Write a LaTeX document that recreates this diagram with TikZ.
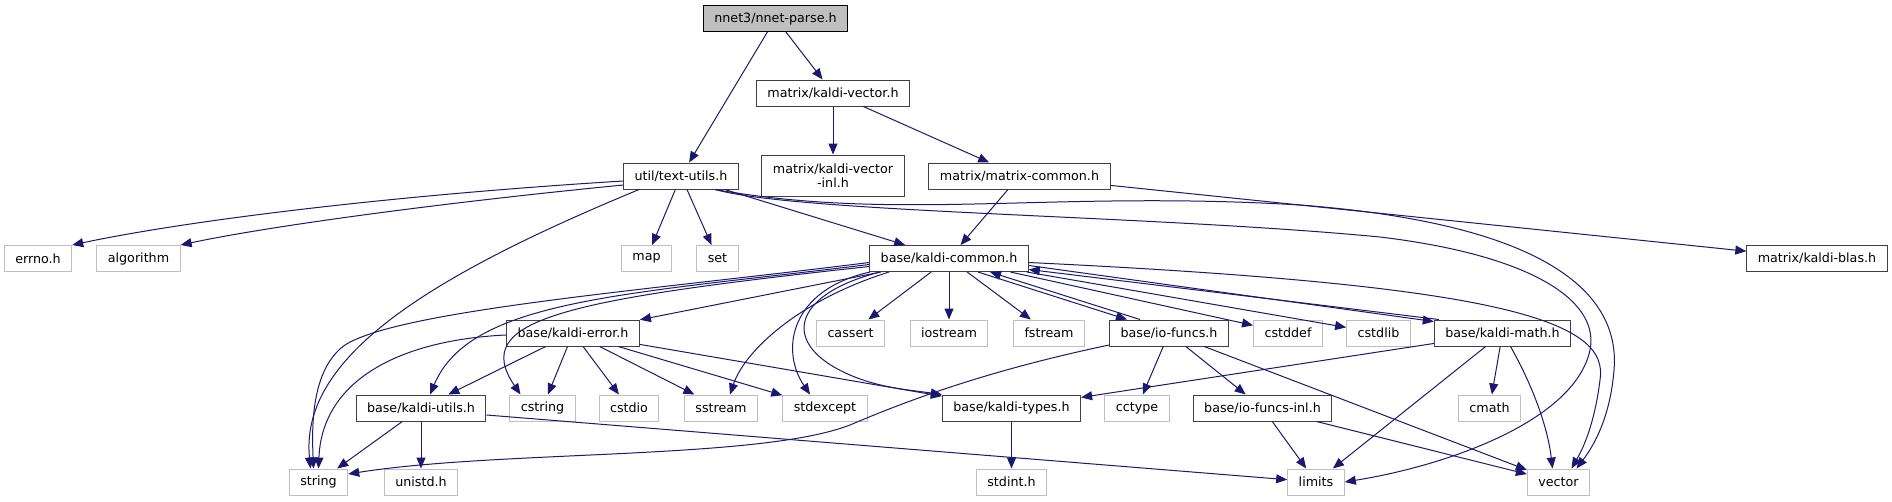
\documentclass[tikz,border=0pt]{standalone}
\usepackage{fontspec}
\usepackage{tikz}
\usetikzlibrary{arrows.meta,positioning,calc}
\newfontfamily\graphfont{DejaVu Sans}
\definecolor{edgeBlue}{HTML}{191970}
\definecolor{sysGray}{HTML}{BFBFBF}
\definecolor{docGray}{HTML}{404040}
\begin{document}
\begin{tikzpicture}[
    x=1pt, y=-1pt,
    box/.style={draw=docGray, line width=1pt, fill=white, minimum height=26pt, inner xsep=11pt, inner ysep=2pt, align=center, font=\graphfont\fontsize{12.7}{14}\selectfont},
    sys/.style={box, draw=sysGray},
    rootbox/.style={box, draw=black, fill=sysGray},
    arr/.style={-{Triangle[length=11pt, width=9pt]}, draw=edgeBlue, line width=1pt}
]
\path[fill=white] (0,0) rectangle (1892,501);
\useasboundingbox (0,0) rectangle (1892,501);

% rows, top to bottom
\node[rootbox] (root) at (775.5,18.5) {nnet3/nnet-parse.h};
\node[box] (kv) at (833,93) {matrix/kaldi-vector.h};
\node[box] (tu) at (681,176) {util/text-utils.h};
\node[box, minimum height=41pt] (kvi) at (833,175.5) {matrix/kaldi-vector\\-inl.h};
\node[box] (mc) at (1019.5,176) {matrix/matrix-common.h};

\node[sys] (errno) at (38,258.5) {errno.h};
\node[sys] (algo) at (138.5,258.5) {algorithm};
\node[sys] (map) at (646.5,258.5) {map};
\node[sys] (set) at (717.5,258.5) {set};
\node[box] (kc) at (949,258.5) {base/kaldi-common.h};
\node[box] (blas) at (1817,258.5) {matrix/kaldi-blas.h};

\node[box] (ke) at (573,333) {base/kaldi-error.h};
\node[sys] (cassert) at (850.5,333) {cassert};
\node[sys] (iostream) at (949,333) {iostream};
\node[sys] (fstream) at (1049,333) {fstream};
\node[box] (io) at (1169,333) {base/io-funcs.h};
\node[sys] (cstddef) at (1288,333) {cstddef};
\node[sys] (cstdlib) at (1378.5,333) {cstdlib};
\node[box] (km) at (1502.5,333) {base/kaldi-math.h};

\node[box] (ku) at (421,408) {base/kaldi-utils.h};
\node[sys] (cstring) at (542.5,408) {cstring};
\node[sys] (cstdio) at (629,408) {cstdio};
\node[sys] (sstream) at (721,408) {sstream};
\node[sys] (stdexcept) at (825,408) {stdexcept};
\node[box] (kt) at (1011.5,408) {base/kaldi-types.h};
\node[sys] (cctype) at (1137,408) {cctype};
\node[box] (ioi) at (1262.5,408) {base/io-funcs-inl.h};
\node[sys] (cmath) at (1489.5,408) {cmath};

\node[sys] (string) at (318.5,482) {string};
\node[sys] (unistd) at (421,482) {unistd.h};
\node[sys] (stdint) at (1011.5,482) {stdint.h};
\node[sys] (limits) at (1316,482) {limits};
\node[sys] (vector) at (1558.5,482) {vector};

% nnet-parse and matrix headers
\draw[arr] (root) -- (tu);
\draw[arr] (root) -- (kv);
\draw[arr] (kv) -- (kvi);
\draw[arr] (kv) -- (mc);
\draw[arr] (mc) -- (kc);
\draw[arr] (mc) -- (blas);

% text-utils
\draw[arr] ([yshift=-5pt]tu.west) .. controls (380,196) and (180,222) .. (errno.north east);
\draw[arr] ([yshift=-9pt]tu.west) .. controls (420,205) and (260,228) .. (algo.north east);
\draw[arr] ([xshift=16pt]tu.south west) .. controls (420,280) and (300,360) .. ([xshift=-8pt]string.north);
\draw[arr] (tu) -- (map);
\draw[arr] (tu) -- (set);
\draw[arr] (tu) -- (kc);
\draw[arr] ([xshift=34pt]tu.south) .. controls (900,222) and (1050,190) .. (1300,205)
    .. controls (1560,225) and (1620,300) .. (1614,370)
    .. controls (1610,420) and (1592,448) .. ([xshift=18pt]vector.north);
\draw[arr] ([xshift=34pt]tu.south) .. controls (800,213) and (1150,215) .. (1380,237)
    .. controls (1530,255) and (1600,300) .. (1590,350)
    .. controls (1575,420) and (1450,465) .. (limits.east);

% kaldi-common
\draw[arr] (kc) -- (ke);
\draw[arr] (kc) -- (cassert);
\draw[arr] (kc) -- (iostream);
\draw[arr] (kc) -- (fstream);
\draw[arr] ([xshift=29pt]kc.south) -- ([xshift=-42pt]io.north);
\draw[arr] ([xshift=-29pt]io.north) -- ([xshift=41pt]kc.south);
\draw[arr] (kc) -- (cstddef);
\draw[arr] (kc) -- (cstdlib);
\draw[arr] ([yshift=-7pt]kc.east) -- ([yshift=-2pt]km.north west);
\draw[arr] ([xshift=5pt]km.north west) -- ([yshift=-11pt]kc.east);
\draw[arr] ([yshift=-4pt]kc.east) .. controls (1500,285) and (1610,320) .. (1600,380)
    .. controls (1595,420) and (1585,445) .. ([xshift=13pt]vector.north);
\draw[arr] ([xshift=-69pt]kc.south) .. controls (790,295) and (780,345) .. (850,375)
    .. controls (880,388) and (910,390) .. (kt.north west);
\draw[arr] ([xshift=-60pt]kc.south) .. controls (800,300) and (745,350) .. ([xshift=9pt]sstream.north);
\draw[arr] ([xshift=-79pt]kc.south) .. controls (790,290) and (780,350) .. ([xshift=-15pt]stdexcept.north);
\draw[arr] ([yshift=-8pt]kc.west) .. controls (560,300) and (470,320) .. ([xshift=-22pt]cstring.north);
\draw[arr] ([yshift=-6pt]kc.west) .. controls (620,295) and (470,300) .. ([xshift=9pt]ku.north);
\draw[arr] ([yshift=-4pt]kc.west) .. controls (650,290) and (400,310) .. (345,345)
    .. controls (310,370) and (312,430) .. ([xshift=-5pt]string.north);

% kaldi-error
\draw[arr] ([yshift=-2pt]ke.west) .. controls (400,340) and (322,380) .. (string.north);
\draw[arr] (ke) -- (ku);
\draw[arr] (ke) -- (cstring);
\draw[arr] (ke) -- (cstdio);
\draw[arr] (ke) -- (sstream);
\draw[arr] (ke) -- (stdexcept);
\draw[arr] (ke) -- (kt);

% kaldi-utils
\draw[arr] (ku) -- (string);
\draw[arr] (ku) -- (unistd);
\draw[arr] ([yshift=-7pt]ku.east) -- (limits);

% io-funcs
\draw[arr] ([yshift=-12pt]io.west) .. controls (1000,368) and (920,395) .. (850,425)
    .. controls (760,460) and (500,450) .. ([yshift=8pt]string.east);
\draw[arr] (io) -- (cctype);
\draw[arr] (io) -- (ioi);
\draw[arr] (io) -- (vector);

% kaldi-math
\draw[arr] (km) -- (kt);
\draw[arr] (km) -- (limits);
\draw[arr] (km) -- (cmath);
\draw[arr] ([xshift=8pt]km.south) .. controls (1535,390) and (1548,430) .. ([xshift=-6pt]vector.north);

% io-funcs-inl, kaldi-types
\draw[arr] (ioi) -- (limits);
\draw[arr] (ioi) -- (vector);
\draw[arr] (kt) -- (stdint);
\end{tikzpicture}
\end{document}
